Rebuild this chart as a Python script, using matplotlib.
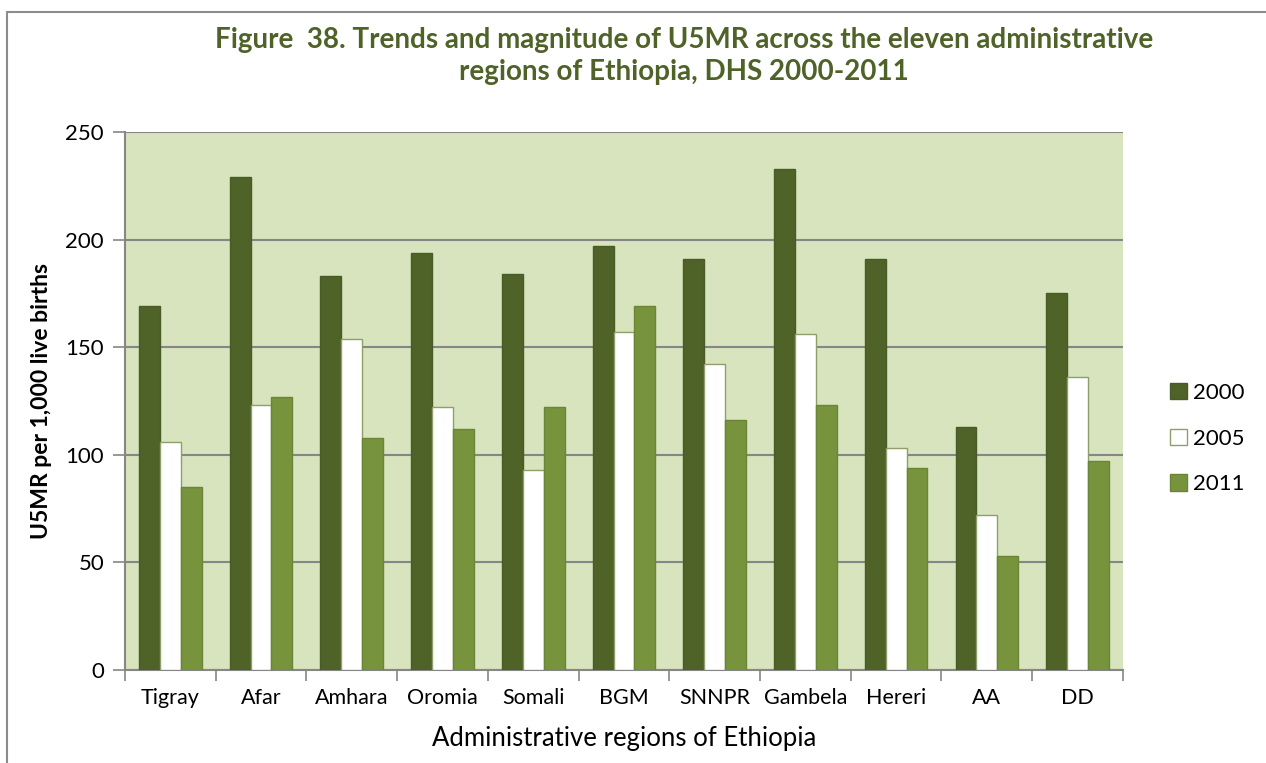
import matplotlib
matplotlib.use("Agg")
import matplotlib.pyplot as plt
from matplotlib.patches import Rectangle
import numpy as np

plt.rcParams['font.family'] = ['Lato', 'DejaVu Sans']

regions = ["Tigray", "Afar", "Amhara", "Oromia", "Somali", "BGM",
           "SNNPR", "Gambela", "Hereri", "AA", "DD"]
years = ["2000", "2005", "2011"]
u5mr_2000 = [169, 229, 183, 194, 184, 197, 191, 233, 191, 113, 175]
u5mr_2005 = [106, 123, 154, 122, 93, 157, 142, 156, 103, 72, 136]
u5mr_2011 = [85, 127, 108, 112, 122, 169, 116, 123, 94, 53, 97]

series = [u5mr_2000, u5mr_2005, u5mr_2011]
fills = ["#4F6228", "#FFFFFF", "#77933C"]
edges = ["#4A5C26", "#8E9F6A", "#6A8535"]

fig = plt.figure(figsize=(12.66, 7.63), dpi=100)
ax = fig.add_axes([0.0987, 0.1219, 0.7883, 0.7051])

# outer chart frame (runs off the right and bottom edges)
fig.patches.append(Rectangle((7 / 1266, -0.05), 1.2, 1 - 12 / 763 + 0.05,
                             transform=fig.transFigure, fill=False,
                             edgecolor="#8C8C8C", linewidth=1.5))

x = np.arange(len(regions))
w = 0.23
for i, (vals, fc, ec, yr) in enumerate(zip(series, fills, edges, years)):
    ax.bar(x + (i - 1) * w, vals, width=w, color=fc, edgecolor=ec,
           linewidth=1, label=yr, zorder=3)

ax.set_facecolor("#D7E4BD")
ax.set_xlim(-0.5, len(regions) - 0.5)
ax.set_ylim(0, 250)
ax.set_yticks(np.arange(0, 251, 50))
ax.yaxis.grid(True, color="#868686", linewidth=1.5, zorder=1)
ax.set_axisbelow(True)

ax.set_xticks(x)
ax.set_xticklabels(regions, fontsize=15.5)
ax.set_xticks(np.arange(-0.5, len(regions), 1), minor=True)
ax.tick_params(axis="x", which="major", length=0, pad=13)
ax.tick_params(axis="x", which="minor", length=8, color="#868686", width=1.2)
ax.tick_params(axis="y", length=9, color="#868686", width=1.2,
               labelsize=16, pad=6)

for side in ["top", "right"]:
    ax.spines[side].set_visible(False)
for side in ["left", "bottom"]:
    ax.spines[side].set_color("#868686")
    ax.spines[side].set_linewidth(1.5)

ax.set_ylabel("U5MR per 1,000 live births", fontsize=16.5, fontweight="bold",
              labelpad=10)
ax.set_xlabel("Administrative regions of Ethiopia", fontsize=18.5, labelpad=13)

fig.text(0.540, 0.927,
         "Figure  38. Trends and magnitude of U5MR across the eleven administrative\n"
         "regions of Ethiopia, DHS 2000-2011",
         ha="center", va="center", fontsize=20, fontweight="bold",
         color="#4F6228", linespacing=1.3)

ax.legend(loc="center left", bbox_to_anchor=(1.027, 0.43), frameon=False,
          fontsize=16, handlelength=0.75, handleheight=0.75, handletextpad=0.3,
          labelspacing=1.15)

fig.savefig("out.png", dpi=100)
